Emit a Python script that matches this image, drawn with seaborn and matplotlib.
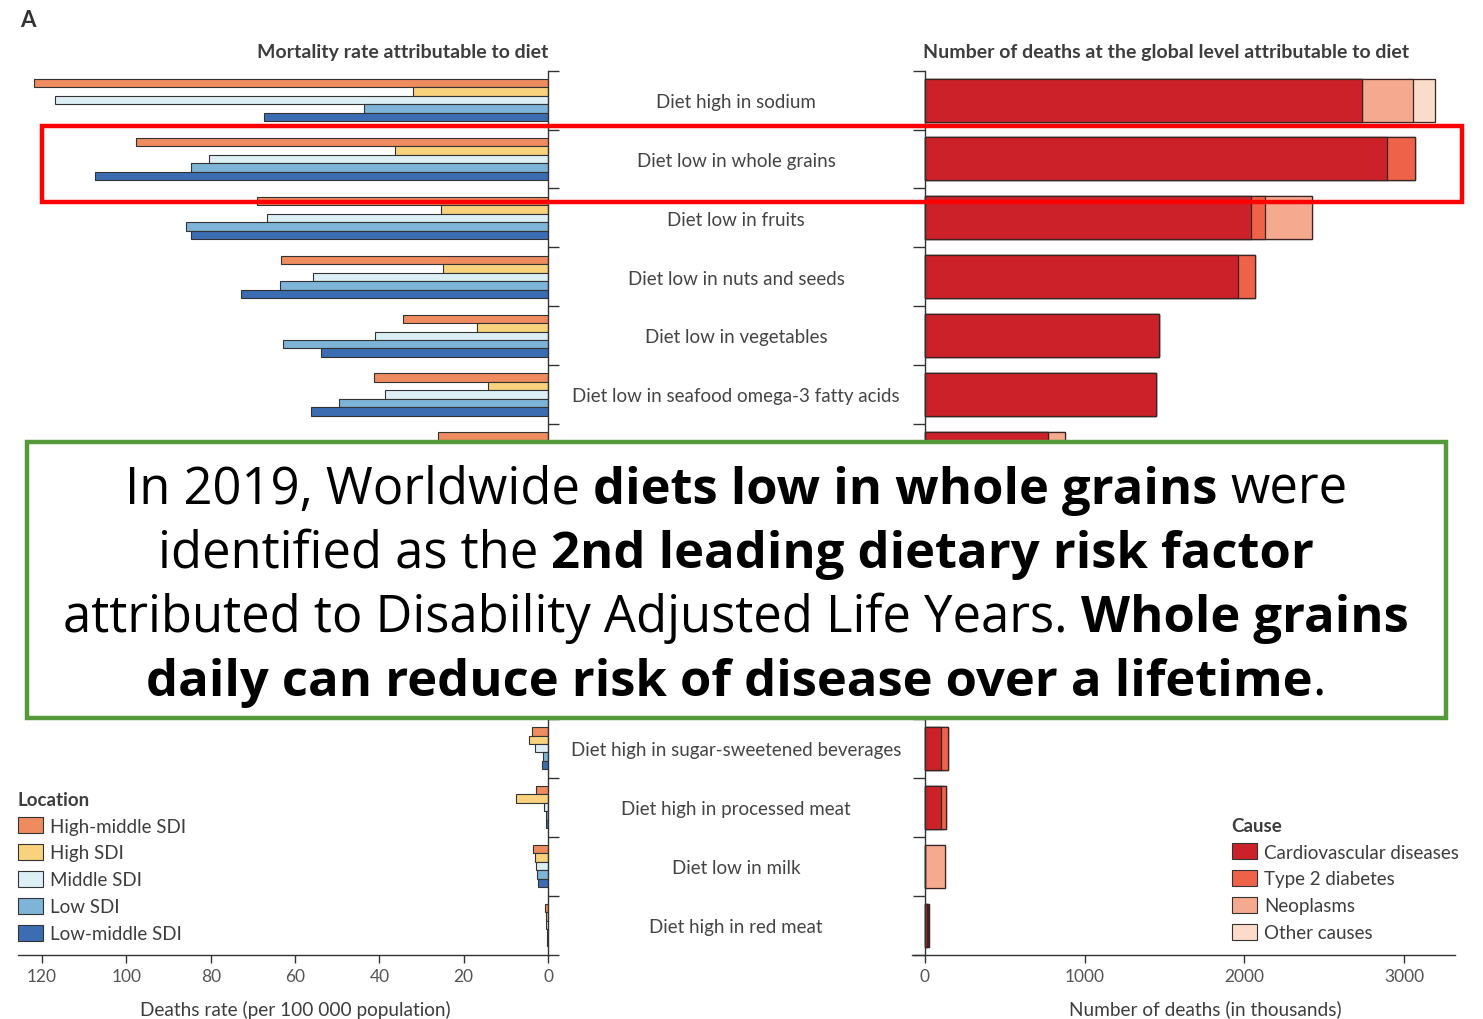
import numpy as np
import pandas as pd
import matplotlib
matplotlib.use("Agg")
import matplotlib.pyplot as plt
import matplotlib.patches as mpatches
import matplotlib.transforms as mtransforms
import seaborn as sns

# ---------------- data ----------------
risks = [
    "Diet high in sodium",
    "Diet low in whole grains",
    "Diet low in fruits",
    "Diet low in nuts and seeds",
    "Diet low in vegetables",
    "Diet low in seafood omega-3 fatty acids",
    "Diet low in fibre",
    "Diet low in legumes",
    "Diet low in polyunsaturated fatty acids",
    "Diet high in trans fatty acids",
    "Diet low in calcium",
    "Diet high in sugar-sweetened beverages",
    "Diet high in processed meat",
    "Diet low in milk",
    "Diet high in red meat",
]
# rows whose labels are hidden behind the annotation box in the reference
hidden_rows = [6, 7, 8, 9, 10]
locations = ["High-middle SDI", "High SDI", "Middle SDI", "Low SDI", "Low-middle SDI"]
rate_high_middle = [121.8, 97.6, 69.0, 63.3, 34.4, 41.2, 26.0, 20.0, 18.0, 12.0, 8.0, 3.8, 2.9, 3.6, 0.6]
rate_high = [32.0, 36.2, 25.4, 24.9, 16.8, 14.2, 12.0, 6.0, 10.0, 9.0, 3.0, 4.6, 7.6, 3.2, 0.4]
rate_middle = [117.0, 80.4, 66.7, 55.8, 41.0, 38.7, 18.0, 14.0, 12.0, 6.0, 6.0, 3.1, 1.0, 2.8, 0.5]
rate_low = [43.6, 84.6, 85.8, 63.5, 62.9, 49.5, 22.0, 20.0, 10.0, 3.0, 9.0, 1.2, 0.4, 2.6, 0.3]
rate_low_middle = [67.3, 107.5, 84.6, 72.8, 53.8, 56.1, 25.0, 22.0, 12.0, 5.0, 10.0, 1.5, 0.4, 2.4, 0.3]

causes = ["Cardiovascular diseases", "Type 2 diabetes", "Neoplasms", "Other causes"]
deaths_cvd = [2736, 2893, 2043, 1961, 1465, 1450, 770, 600, 500, 400, 0, 100, 100, 0, 10]
deaths_diabetes = [0, 175, 87, 106, 0, 0, 0, 0, 0, 0, 0, 42, 31, 0, 8]
deaths_neoplasms = [320, 0, 293, 0, 0, 0, 107, 0, 0, 0, 150, 0, 0, 127, 7]
deaths_other = [138, 0, 0, 0, 0, 0, 0, 0, 0, 0, 0, 0, 0, 0, 0]

left_ticks = [120, 100, 80, 60, 40, 20, 0]
right_ticks = [0, 1000, 2000, 3000]

loc_colors = ["#EE8B5F", "#F8D27D", "#DCEFF5", "#7DB4D8", "#3C6DB3"]
cause_colors = ["#CD2129", "#EE6249", "#F5A98F", "#FBDCCB"]

# ---------------- figure ----------------
W, H = 1483, 1020
sns.set_theme(style="white")
FONT = "Lato"
plt.rcParams["font.family"] = [FONT, "DejaVu Sans"]
TXT = "#3d3d3d"

fig = plt.figure(figsize=(W / 100, H / 100), dpi=100)
fig.patch.set_facecolor("white")

def fx(px):
    return px / W

def fy(py):
    return 1 - py / H

top_px, bot_px = 71.6, 955.5
axL = fig.add_axes([fx(18), fy(bot_px), fx(548) - fx(18), fy(top_px) - fy(bot_px)])
axR = fig.add_axes([fx(912.2), fy(bot_px), fx(1455) - fx(912.2), fy(top_px) - fy(bot_px)])

# ---- left panel: grouped bars ----
df_rate = pd.DataFrame({
    "risk": risks,
    locations[0]: rate_high_middle,
    locations[1]: rate_high,
    locations[2]: rate_middle,
    locations[3]: rate_low,
    locations[4]: rate_low_middle,
}).melt(id_vars="risk", var_name="location", value_name="rate")

sns.barplot(data=df_rate, x="rate", y="risk", hue="location", order=risks,
            hue_order=locations, palette=loc_colors, orient="h", width=0.72,
            gap=0, saturation=1, edgecolor="#333333", linewidth=0.8, legend=False, ax=axL)
axL.set_xlim(125.7, 0)
axL.set_ylim(14.5, -0.5)
axL.set_xlabel("Deaths rate (per 100 000 population)", fontsize=13.7, color=TXT)
axL.xaxis.set_label_coords((295 - 18) / 530, -0.051)
axL.xaxis.label.set_verticalalignment("top")
axL.set_ylabel("")
axL.set_xticks(left_ticks)
axL.set_xticklabels([str(t) for t in left_ticks])
axL.yaxis.tick_right()
axL.set_yticks(np.arange(-0.5, 15, 1))
axL.set_yticklabels([])
for s in ["top", "left"]:
    axL.spines[s].set_visible(False)
for s in ["right", "bottom"]:
    axL.spines[s].set_color("#333333")
    axL.spines[s].set_linewidth(1.0)
axL.tick_params(axis="y", which="both", right=True, left=False, length=8, width=1.0, color="#333333", direction="out")
axL.tick_params(axis="x", bottom=True, length=6, width=1.0, color="#333333", labelsize=12.5, labelcolor="#555555", pad=4)
axL.set_title("Mortality rate attributable to diet", loc="right", fontsize=14,
              fontweight="bold", color=TXT, pad=10)

# ---- right panel: stacked bars (cumulative, drawn largest first) ----
cum_cvd = np.array(deaths_cvd, dtype=float)
cum_dia = cum_cvd + np.array(deaths_diabetes)
cum_neo = cum_dia + np.array(deaths_neoplasms)
cum_oth = cum_neo + np.array(deaths_other)
for vals, col in zip([cum_oth, cum_neo, cum_dia, cum_cvd], cause_colors[::-1]):
    sns.barplot(x=vals, y=risks, order=risks, orient="h", color=col, width=0.73,
                saturation=1, edgecolor="#3a2424", linewidth=0.9, ax=axR)
axR.set_xlim(-80, 3320)
axR.set_ylim(14.5, -0.5)
axR.set_xlabel("Number of deaths (in thousands)", fontsize=13.7, color=TXT)
axR.xaxis.set_label_coords((1205 - 912.2) / 542.8, -0.051)
axR.xaxis.label.set_verticalalignment("top")
axR.set_ylabel("")
axR.set_xticks(right_ticks)
axR.set_xticklabels([str(t) for t in right_ticks])
axR.set_yticks(np.arange(-0.5, 15, 1))
axR.set_yticklabels([])
axR.spines["left"].set_position(("data", 0))
for s in ["top", "right"]:
    axR.spines[s].set_visible(False)
for s in ["left", "bottom"]:
    axR.spines[s].set_color("#333333")
    axR.spines[s].set_linewidth(1.0)
axR.tick_params(axis="y", left=True, length=9, width=1.0, color="#333333", direction="out")
axR.tick_params(axis="x", bottom=True, length=6, width=1.0, color="#333333", labelsize=12.5, labelcolor="#555555", pad=4)
axR.set_title("Number of deaths at the global level attributable to diet", loc="left",
              fontsize=14, fontweight="bold", color=TXT, pad=10, x=(923 - 912.2) / (1455 - 912.2))

# category labels in the middle
trans = mtransforms.blended_transform_factory(fig.transFigure, axR.transData)
for i, r in enumerate(risks):
    if i in hidden_rows:
        continue
    fig.text(fx(736), i + 0.02, r, transform=trans, ha="center", va="center",
             fontsize=13.5, color="#444444")

# panel letter
fig.text(fx(20), fy(10), "A", fontsize=16, fontweight="bold", color="#333333", ha="left", va="top")

# legends
leg_kw = dict(loc="upper left", frameon=False, fontsize=13.5,
              title_fontproperties={"weight": "bold", "size": 13.5}, alignment="left",
              handlelength=1.35, handleheight=0.95, handletextpad=0.4, labelspacing=0.5,
              borderaxespad=0, borderpad=0.3)
loc_handles = [mpatches.Patch(facecolor=c, edgecolor="#333333", linewidth=0.8, label=l)
               for c, l in zip(loc_colors, locations)]
lg1 = fig.legend(handles=loc_handles, title="Location", bbox_to_anchor=(fx(12), fy(786)), **leg_kw)
for t in lg1.get_texts():
    t.set_color(TXT)
lg1.get_title().set_color(TXT)

cause_handles = [mpatches.Patch(facecolor=c, edgecolor="#333333", linewidth=0.8, label=l)
                 for c, l in zip(cause_colors, causes)]
lg2 = fig.legend(handles=cause_handles, title="Cause", bbox_to_anchor=(fx(1226), fy(812)), **leg_kw)
for t in lg2.get_texts():
    t.set_color(TXT)
lg2.get_title().set_color(TXT)

# ---- annotation boxes ----
red_box = mpatches.Rectangle((fx(42), fy(203)), fx(1462) - fx(42), fy(127) - fy(203),
                             transform=fig.transFigure, fill=False, edgecolor="#FF0000",
                             linewidth=3.2, zorder=20)
fig.add_artist(red_box)
green_box = mpatches.Rectangle((fx(27), fy(719)), fx(1446) - fx(27), fy(443) - fy(719),
                               transform=fig.transFigure, facecolor="white", edgecolor="#54993A",
                               linewidth=3.2, zorder=20)
fig.add_artist(green_box)

BOXFONT = "Open Sans"
lines = [
    [("In 2019, Worldwide", False), ("diets low in whole grains", True), ("were", False)],
    [("identified as the", False), ("2nd leading dietary risk factor", True)],
    [("attributed to Disability Adjusted Life Years.", False), ("Whole grains", True)],
    [("daily can reduce risk of disease over a lifetime", True), (".", False)],
]
baselines = [504, 568, 632, 696]
renderer = fig.canvas.get_renderer()

def measure(s, bold, size):
    t = fig.text(0, 0, s, fontsize=size, fontweight="bold" if bold else "normal",
                 family=BOXFONT)
    w = t.get_window_extent(renderer).width
    t.remove()
    return w

def line_width(segs, size):
    sp = measure("a a", False, size) - measure("aa", False, size)
    ws = [measure(s, b, size) for s, b in segs]
    gaps = [0 if s.startswith(".") else sp for s, b in segs[1:]]
    return ws, gaps

base = 40.0
ws, gaps = line_width(lines[2], base)
size = base * 1343.0 / (sum(ws) + sum(gaps))

for segs, yb in zip(lines, baselines):
    ws, gaps = line_width(segs, size)
    total = sum(ws) + sum(gaps)
    x = 736 - total / 2
    for k, ((s, b), w) in enumerate(zip(segs, ws)):
        if k > 0:
            x += gaps[k - 1]
        fig.text(fx(x), fy(yb), s, fontsize=size, fontweight="bold" if b else "normal",
                 family=BOXFONT, color="black", ha="left", va="baseline", zorder=21)
        x += w

fig.savefig("out.png", dpi=100, facecolor="white")
